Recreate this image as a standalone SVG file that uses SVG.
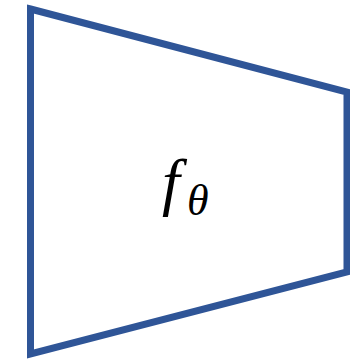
<svg xmlns="http://www.w3.org/2000/svg" width="350" height="360" viewBox="0 0 350 360">
<style>
.shape{fill:#FFFFFF;stroke:#2F5597;stroke-width:7;stroke-linejoin:miter}
.lbl{font-family:"Liberation Serif","DejaVu Serif",serif;font-style:italic;fill:#000000}
</style>
<rect width="350" height="360" fill="#FFFFFF"/>
<g id="node-f">
<polygon class="shape" points="30.5,9 347,92 347,272 30.5,354"/>
<text class="lbl" x="162" y="203" font-size="64">f</text>
<text class="lbl" x="187" y="215" font-size="44">θ</text>
</g>
<g id="connectors"></g>
</svg>
